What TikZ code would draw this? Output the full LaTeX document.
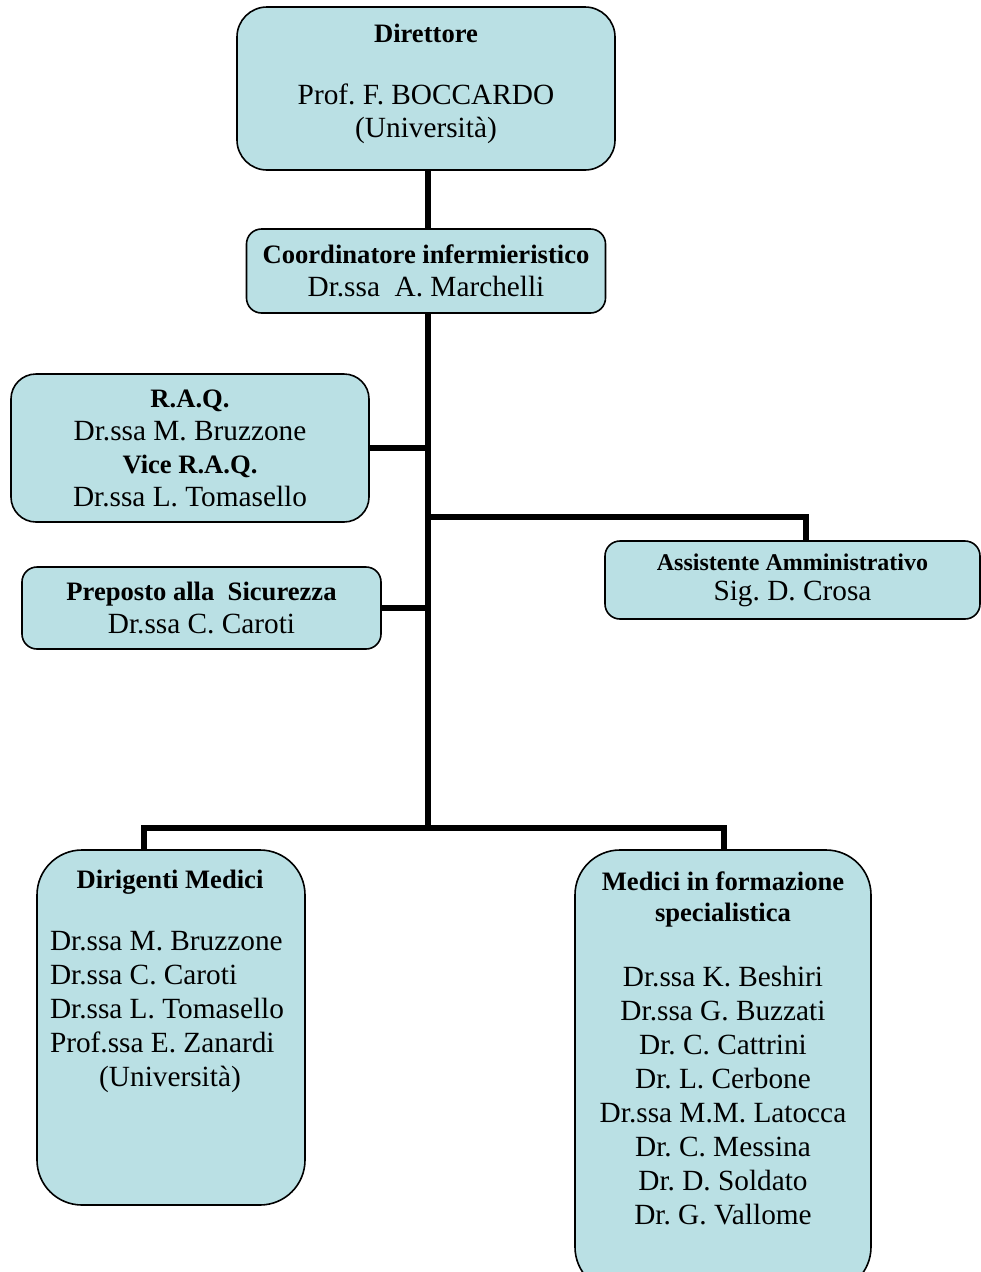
\documentclass[tikz,border=0pt]{standalone}
\usepackage{fontspec}
\setmainfont{Liberation Serif}
\usetikzlibrary{positioning}
\frenchspacing

\definecolor{boxblue}{RGB}{186,224,228}
\newcommand{\ttl}[1]{{\fontsize{26.6}{33}\selectfont\bfseries #1}}
\newcommand{\smallttl}[1]{{\fontsize{24}{30}\selectfont\bfseries #1}}

\tikzset{
  box/.style={draw, line width=1.6pt, fill=boxblue, rounded corners=15pt,
    align=center, inner sep=0pt},
  link/.style={line width=6pt},
  listtext/.style={inner sep=0pt, anchor=north}
}

\begin{document}
\begin{tikzpicture}[x=1pt, y=-1pt, node distance=2cm, on grid,
    font=\fontsize{29.3}{33}\selectfont]
   \useasboundingbox (0,0) rectangle (981,1272);
   \clip (0,0) rectangle (981,1272);

   % Top of the chart
   \node[box, rounded corners=30pt, minimum width=378pt, minimum height=163pt]
     (dir) at (426,88.5)
     {\ttl{Direttore}\\[29pt] Prof. F. BOCCARDO\\ (Università)\rule[-16pt]{0pt}{16pt}};
   \node[box, minimum width=359pt, minimum height=84pt] (coord) [below=182.5pt of dir]
     {\ttl{Coordinatore infermieristico}\\ Dr.ssa\ \ A. Marchelli};

   % Side boxes
   \node[box, rounded corners=25pt, minimum width=358pt, minimum height=148pt]
     (raq) [below left=177pt and 236pt of coord]
     {\ttl{R.A.Q.}\\ Dr.ssa M. Bruzzone\\ \ttl{Vice R.A.Q.}\\ Dr.ssa L. Tomasello};
   \node[box, minimum width=359pt, minimum height=82pt] (prep) [below right=160pt and 11.5pt of raq]
     {\ttl{Preposto alla\ \ Sicurezza}\\ Dr.ssa C. Caroti};
   \node[box, minimum width=375pt, minimum height=78pt] (assist) [below right=309pt and 366.5pt of coord]
     {\smallttl{Assistente Amministrativo}\\[-3pt] Sig. D. Crosa};

   % Bottom boxes
   \node[box, rounded corners=45pt, minimum width=268pt, minimum height=355pt]
     (dirig) [below left=419.5pt and 30.5pt of prep] {};
   \node[box, rounded corners=45pt, minimum width=296pt, minimum height=442pt]
     (medici) [below right=43.5pt and 552pt of dirig] {};

   \node[listtext, text width=240pt, align=flush left, font=\fontsize{29.3}{34}\selectfont]
     (dirigtxt) at ([xshift=-1pt, yshift=-21pt]dirig.north)
     {\makebox[\linewidth]{\ttl{Dirigenti Medici}}\\[28pt]
      Dr.ssa M. Bruzzone\\ Dr.ssa C. Caroti\\ Dr.ssa L. Tomasello\\
      Prof.ssa E. Zanardi\\ \makebox[\linewidth]{(Università)}};
   \node[listtext, align=center, font=\fontsize{29.3}{34}\selectfont]
     (medicitxt) at ([yshift=-22pt]medici.north)
     {\ttl{Medici in formazione}\\[-3pt] \ttl{specialistica}\\[31pt]
      Dr.ssa K. Beshiri\\ Dr.ssa G. Buzzati\\ Dr. C. Cattrini\\ Dr. L. Cerbone\\
      Dr.ssa M.M. Latocca\\ Dr. C. Messina\\ Dr. D. Soldato\\ Dr. G. Vallome};

   % Connectors
   \coordinate (split) at (428,828);
   \coordinate (ajoin) at (428,517);
   \draw[link] (split |- dir.south) -- (split |- coord.north);
   \draw[link] (split |- coord.south) -- (split);
   \draw[link] (raq.east) -- (raq.east -| split);
   \draw[link] (prep.east) -- (prep.east -| split);
   \draw[link] ([xshift=13.5pt]assist.north) |- (ajoin);
   \draw[link] ([xshift=-27pt]dirig.north) |- (split) -| ([xshift=1pt]medici.north);
\end{tikzpicture}
\end{document}
